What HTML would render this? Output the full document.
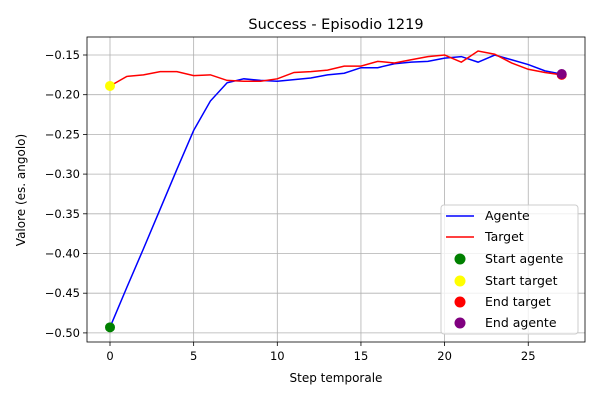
<!DOCTYPE html>
<html><head><meta charset="utf-8"><style>
body{margin:0;background:#fff;font-family:"Liberation Sans","DejaVu Sans",sans-serif;}
svg text{font-family:"DejaVu Sans","Liberation Sans",sans-serif;}
</style></head><body>
<svg id="chart" width="600" height="400"></svg>
<script>
const steps=[0,1,2,3,4,5,6,7,8,9,10,11,12,13,14,15,16,17,18,19,20,21,22,23,24,25,26,27];
const agente=[-0.493,-0.443,-0.394,-0.344,-0.294,-0.245,-0.208,-0.185,-0.180,-0.182,-0.183,-0.181,-0.179,-0.175,-0.173,-0.166,-0.166,-0.161,-0.159,-0.158,-0.154,-0.152,-0.159,-0.150,-0.156,-0.162,-0.170,-0.174];
const target=[-0.189,-0.177,-0.175,-0.171,-0.171,-0.176,-0.175,-0.182,-0.183,-0.183,-0.180,-0.172,-0.171,-0.169,-0.164,-0.164,-0.158,-0.160,-0.156,-0.152,-0.150,-0.159,-0.145,-0.149,-0.160,-0.168,-0.172,-0.175];
const xTicks=[0,5,10,15,20,25];
const yTicks=[-0.15,-0.20,-0.25,-0.30,-0.35,-0.40,-0.45,-0.50];
const yLabels=["−0.15","−0.20","−0.25","−0.30","−0.35","−0.40","−0.45","−0.50"];
const L=87,R=585,T=37,B=342;
const X=v=>110+v*16.73;
const Y=v=>55+(-0.15-v)*794;
const NS="http://www.w3.org/2000/svg",svg=document.getElementById('chart');
function mk(t,a,p){const e=document.createElementNS(NS,t);for(const k in a)e.setAttribute(k,a[k]);(p||svg).appendChild(e);return e;}
xTicks.forEach(v=>{
 const g=mk('line',{x1:X(v),x2:X(v),y1:T,y2:B,stroke:'#b0b0b0','stroke-width':0.8});
 
 
 mk('line',{x1:X(v),x2:X(v),y1:B,y2:B+4,stroke:'#000','stroke-width':0.8});
 const t=mk('text',{x:X(v),y:B+18,'text-anchor':'middle','font-size':11.5});t.textContent=v;
 
 
});
yTicks.forEach((v,i)=>{
 const g=mk('line',{x1:L,x2:R,y1:Y(v),y2:Y(v),stroke:'#b0b0b0','stroke-width':0.8});
 
 
 mk('line',{x1:L-4,x2:L,y1:Y(v),y2:Y(v),stroke:'#000','stroke-width':0.8});
 const t=mk('text',{x:L-7,y:Y(v)+4,'text-anchor':'end','font-size':11.5});t.textContent=yLabels[i];
 
 
});
const pa=mk('polyline',{points:steps.map((s,i)=>X(s)+','+Y(agente[i])).join(' '),fill:'none',stroke:'#0000ff','stroke-width':1.5});


const pt=mk('polyline',{points:steps.map((s,i)=>X(s)+','+Y(target[i])).join(' '),fill:'none',stroke:'#ff0000','stroke-width':1.5});


const n=steps.length-1;
const pts=[[steps[0],agente[0],'green','start-agente-point'],[steps[0],target[0],'yellow','start-target-point'],[steps[n],target[n],'red','end-target-point'],[steps[n],agente[n],'purple','end-agente-point']];
pts.forEach(p=>{const c=mk('circle',{cx:X(p[0]),cy:Y(p[1]),r:5,fill:p[2]});
 
 });
const fr=mk('rect',{x:L,y:T,width:R-L,height:B-T,fill:'none',stroke:'#000','stroke-width':0.8});


</script>
<svg style="position:absolute;left:0;top:0" width="600" height="400">
<text x="336" y="29" text-anchor="middle" font-size="14.5">Success - Episodio 1219</text>
<text x="336" y="382" text-anchor="middle" font-size="12">Step temporale</text>
<text transform="translate(25,190) rotate(-90)" text-anchor="middle" font-size="12">Valore (es. angolo)</text>
<g>
<rect x="441" y="205" width="137" height="129" rx="3" fill="#fff" fill-opacity="0.8" stroke="#ccc"/>
<line x1="446" x2="474" y1="216" y2="216" stroke="#0000ff" stroke-width="1.5"/><text x="485" y="220" font-size="12.5">Agente</text>
<line x1="446" x2="474" y1="237" y2="237" stroke="#ff0000" stroke-width="1.5"/><text x="485" y="241" font-size="12.5">Target</text>
<circle cx="460" cy="259" r="5.5" fill="green"/><text x="485" y="263" font-size="12.5">Start agente</text>
<circle cx="460" cy="281" r="5.5" fill="yellow"/><text x="485" y="285" font-size="12.5">Start target</text>
<circle cx="460" cy="302" r="5.5" fill="red"/><text x="485" y="306" font-size="12.5">End target</text>
<circle cx="460" cy="323" r="5.5" fill="purple"/><text x="485" y="327" font-size="12.5">End agente</text>
</g>
</svg>
</body></html>
